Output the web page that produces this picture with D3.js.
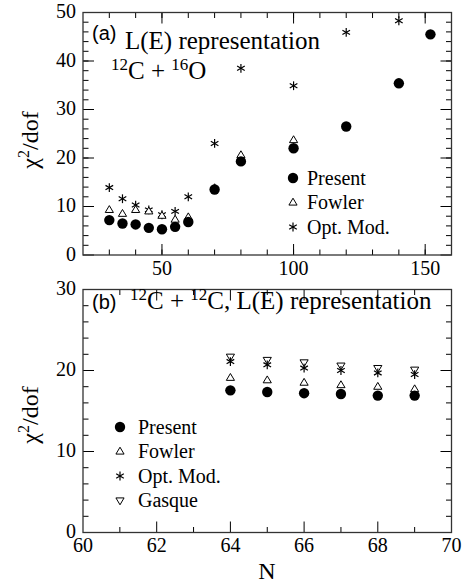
<!DOCTYPE html>
<html>
<head>
<meta charset="utf-8">
<script src="https://cdn.jsdelivr.net/npm/d3@7"></script>
<style>
  html, body { margin: 0; padding: 0; background: #fff; }
  svg { display: block; }
</style>
</head>
<body>
<svg id="chart" width="468" height="584"></svg>
<script>
// Panel (a): 12C + 16O
const nA        = [30, 35, 40, 45, 50, 55, 60, 70, 80, 100, 120, 140, 152];
const presentA  = [7.2, 6.5, 6.3, 5.6, 5.3, 5.8, 6.8, 13.5, 19.3, 22.0, 26.5, 35.4, 45.5];
const fowlerA   = [9.3, 8.5, 9.3, 9.0, 8.1, 7.3, 7.8, 13.8, 20.6, 23.7, null, null, null];
const optModA   = [13.9, 11.6, 10.3, 9.3, 8.3, 9.0, 12.0, 23.0, 38.5, 34.9, 45.9, 48.3, null];

// Panel (b): 12C + 12C
const nB        = [64, 65, 66, 67, 68, 69];
const presentB  = [17.55, 17.35, 17.2, 17.1, 16.9, 16.9];
const fowlerB   = [19.1, 18.8, 18.5, 18.2, 18.0, 17.7];
const optModB   = [21.1, 20.7, 20.3, 20.0, 19.7, 19.5];
const gasqueB   = [21.7, 21.3, 21.0, 20.6, 20.3, 20.1];

const legendA = ["Present", "Fowler", "Opt. Mod."];
const legendB = ["Present", "Fowler", "Opt. Mod.", "Gasque"];

const SERIF = "'Liberation Serif', 'DejaVu Serif', 'Times New Roman', serif";
const SANS = "'Liberation Sans', Arial, sans-serif";

const svg = d3.select("#chart");

function txt(g, fam, x, y, size) {
  return g.append("text").attr("font-family", fam).attr("x", x).attr("y", y).attr("font-size", size);
}

// marker drawing helpers
function drawMarker(g, type, x, y) {
  if (type === "circle") {
    g.append("circle").attr("cx", x).attr("cy", y).attr("r", 5.2).attr("fill", "#000");
  } else if (type === "up" || type === "down") {
    const s = 4.3, dir = type === "up" ? 1 : -1;
    const pts = [[x, y - dir * s], [x - s * 0.95, y + dir * s * 0.6], [x + s * 0.95, y + dir * s * 0.6]];
    g.append("polygon").attr("points", pts.map(p => p.join(",")).join(" "))
      .attr("fill", "#fff").attr("stroke", "#000").attr("stroke-width", 1);
  } else if (type === "star") {
    const r = 4.4;
    [90, 30, -30].forEach(a => {
      const t = a * Math.PI / 180;
      g.append("line")
        .attr("x1", x - r * Math.cos(t)).attr("y1", y - r * Math.sin(t))
        .attr("x2", x + r * Math.cos(t)).attr("y2", y + r * Math.sin(t))
        .attr("stroke", "#000").attr("stroke-width", 1.2);
    });
  }
}

function panel(cfg) {
  const x = d3.scaleLinear().domain(cfg.xDomain).range([83, 451.5]);
  const y = d3.scaleLinear().domain(cfg.yDomain).range(cfg.yRange);
  const g = svg.append("g");
  const [x0, x1] = x.range();
  const [yb, yt] = y.range();

  // tick marks on all four sides, pointing inward
  const tickX = (vals, len) => vals.forEach(v => {
    g.append("line").attr("x1", x(v)).attr("x2", x(v)).attr("y1", yb).attr("y2", yb - len).attr("stroke", "#000");
    g.append("line").attr("x1", x(v)).attr("x2", x(v)).attr("y1", yt).attr("y2", yt + len).attr("stroke", "#000");
  });
  const tickY = (vals, len) => vals.forEach(v => {
    g.append("line").attr("y1", y(v)).attr("y2", y(v)).attr("x1", x0).attr("x2", x0 + len).attr("stroke", "#000");
    g.append("line").attr("y1", y(v)).attr("y2", y(v)).attr("x1", x1).attr("x2", x1 - len).attr("stroke", "#000");
  });
  tickX(cfg.xMinor, 5.5);
  tickX(cfg.xMajor, 11);
  tickY(cfg.yMinor, 5.5);
  tickY(cfg.yMajor, 11);

  g.append("rect").attr("x", x0).attr("y", yt).attr("width", x1 - x0).attr("height", yb - yt)
    .attr("fill", "none").attr("stroke", "#333").attr("stroke-width", 1.3);

  // tick labels
  cfg.xMajorLabels.forEach(v => {
    txt(g, SERIF, x(v), yb + 19.5, 20).attr("text-anchor", "middle").text(v);
  });
  cfg.yMajor.forEach(v => {
    txt(g, SERIF, x0 - 7, y(v) + 5.5, 20).attr("text-anchor", "end").text(v);
  });

  // y-axis title
  const yt2 = g.append("text").attr("font-family", SERIF).attr("font-size", 24)
    .attr("transform", `translate(38,${cfg.titleY}) rotate(-90)`).attr("text-anchor", "middle");
  yt2.append("tspan").text("χ");
  yt2.append("tspan").attr("dy", -9).attr("font-size", 16).text("2");
  yt2.append("tspan").attr("dy", 9).text("/dof");

  // data
  cfg.series.forEach(s => {
    s.values.forEach((v, i) => {
      if (v != null) drawMarker(g, s.type, x(cfg.n[i]), y(v));
    });
  });
  return { g, x, y };
}

// ---- panel (a)
const pa = panel({
  xDomain: [20, 160], yDomain: [0, 50], yRange: [255, 12.5],
  xMajor: [50, 100, 150], xMinor: d3.range(30, 160, 10),
  xMajorLabels: [50, 100, 150],
  yMajor: [0, 10, 20, 30, 40, 50], yMinor: d3.range(2, 50, 2),
  titleY: 140,
  n: nA,
  series: [
    { type: "star", values: optModA },
    { type: "up", values: fowlerA },
    { type: "circle", values: presentA }
  ]
});

txt(pa.g, SANS, 92, 40, 20).text("(a)");
txt(pa.g, SERIF, 125, 49, 25).text("L(E) representation");
{
  const t = txt(pa.g, SERIF, 111, 79, 25);
  t.append("tspan").attr("font-size", 17).attr("dy", -9).text("12");
  t.append("tspan").attr("dy", 9).text("C + ");
  t.append("tspan").attr("font-size", 17).attr("dy", -9).text("16");
  t.append("tspan").attr("dy", 9).text("O");
}
const legTypesA = ["circle", "up", "star"];
legendA.forEach((name, i) => {
  const yy = 178 + i * 24.5;
  drawMarker(pa.g, legTypesA[i], 293, yy);
  txt(pa.g, SERIF, 307, yy + 6.5, 20).text(name);
});

// ---- panel (b)
const pb = panel({
  xDomain: [60, 70], yDomain: [0, 30], yRange: [532.5, 289.5],
  xMajor: [62, 64, 66, 68], xMinor: [61, 63, 65, 67, 69],
  xMajorLabels: [60, 62, 64, 66, 68, 70],
  yMajor: [0, 10, 20, 30], yMinor: d3.range(2, 30, 2),
  titleY: 415,
  n: nB,
  series: [
    { type: "down", values: gasqueB },
    { type: "star", values: optModB },
    { type: "up", values: fowlerB },
    { type: "circle", values: presentB }
  ]
});

txt(pb.g, SANS, 92, 309, 20).text("(b)");
{
  const t = txt(pb.g, SERIF, 130, 309, 25);
  t.append("tspan").attr("font-size", 17).attr("dy", -9).text("12");
  t.append("tspan").attr("dy", 9).text("C + ");
  t.append("tspan").attr("font-size", 17).attr("dy", -9).text("12");
  t.append("tspan").attr("dy", 9).text("C, L(E) representation");
}
const legTypesB = ["circle", "up", "star", "down"];
legendB.forEach((name, i) => {
  const yy = 427 + i * 24.5;
  drawMarker(pb.g, legTypesB[i], 120, yy);
  txt(pb.g, SERIF, 138, yy + 6.5, 20).text(name);
});

// x-axis title
txt(svg, SERIF, 267, 579, 24).attr("text-anchor", "middle").text("N");
</script>
</body>
</html>
